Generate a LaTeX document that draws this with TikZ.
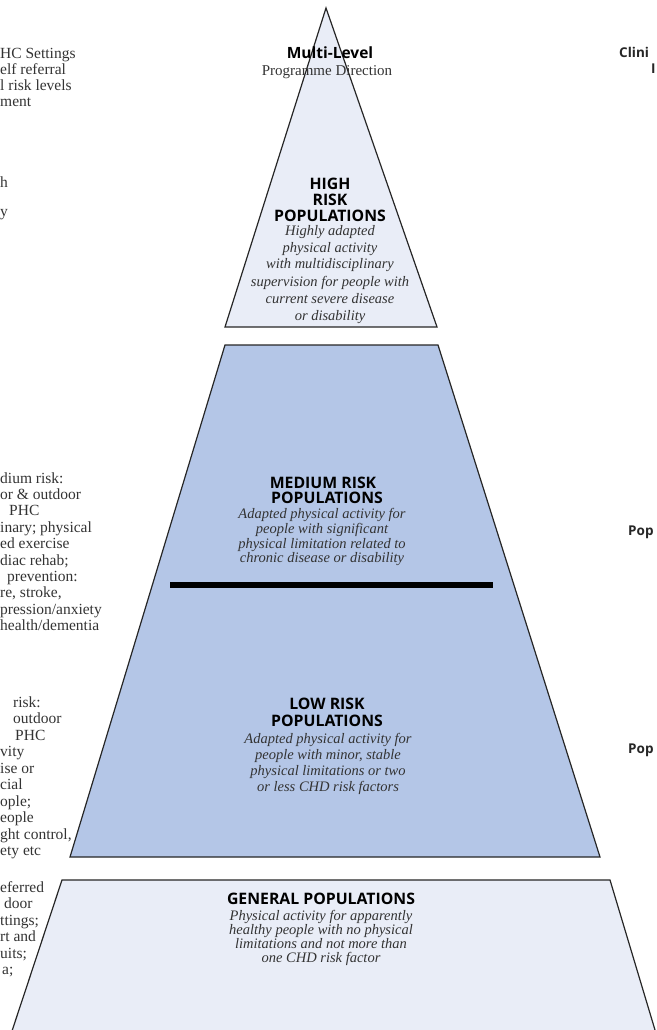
\documentclass[tikz,border=0pt]{standalone}
\usepackage{fontspec}
\setmainfont{Liberation Serif}
\setsansfont{Open Sans}
\definecolor{tierlight}{HTML}{E9EDF7}
\definecolor{tiermid}{HTML}{B4C6E7}
\definecolor{sidetext}{HTML}{333333}
\tikzset{
  lt/.style={anchor=base west, inner sep=0pt, text=sidetext, font=\fontsize{15.5}{16}\selectfont},
  hd/.style={anchor=base, inner sep=0pt, text=black, font=\sffamily\bfseries\fontsize{15.8}{16}\selectfont},
  it/.style={anchor=base, inner sep=0pt, text=sidetext, font=\itshape\fontsize{14.5}{16}\selectfont},
  tierline/.style={draw=black!85, line width=1.2pt, line join=miter},
  rt/.style={anchor=base west, inner sep=0pt, text=black!85, font=\sffamily\bfseries\fontsize{13.5}{15}\selectfont}
}
\begin{document}
\begin{tikzpicture}[x=1pt,y=-1pt]
\useasboundingbox (0,0) rectangle (656,1030);
\clip (0,0) rectangle (656,1030);
% shapes
\coordinate (apex) at (326,8);
\coordinate (tbr) at (437,327);
\coordinate (tbl) at (225,327);
\filldraw[tierline, fill=tierlight] (apex) -- (tbr) -- (tbl) -- cycle;
\coordinate (mtl) at (225,345);
\coordinate (mtr) at (438,345);
\coordinate (mbr) at (600,857);
\coordinate (mbl) at (70,857);
\filldraw[tierline, fill=tiermid] (mtl) -- (mtr) -- (mbr) -- (mbl) -- cycle;
\coordinate (barl) at (170,585);
\coordinate (barr) at (493,585);
\draw[line width=6pt, black] (barl) -- (barr);
\coordinate (gtl) at (62,880);
\coordinate (gtr) at (610,880);
\coordinate (gbr) at (658,1040);
\coordinate (gbl) at (9,1040);
\filldraw[tierline, fill=tierlight] (gtl) -- (gtr) -- (gbr) -- (gbl) -- cycle;

% top label
\node[hd, font=\sffamily\bfseries\fontsize{15.5}{16}\selectfont] (ml) at (330,59) {Multi-Level};
\node[it, font=\fontsize{15}{16}\selectfont] (pd) at (327,76) {Programme Direction};

% high risk
\node[hd] (h1) at (330,189) {HIGH};
\node[hd] (h2) at (330,205) {RISK};
\node[hd] (h3) at (330,221) {POPULATIONS};
\node[it] (h4) at (330,235) {Highly adapted};
\node[it] (h5) at (330,252) {physical activity};
\node[it] (h6) at (330,268) {with multidisciplinary};
\node[it] (h7) at (330,286) {supervision for people with};
\node[it] (h8) at (330,303) {current severe disease};
\node[it] (h9) at (330,320) {or disability};

% medium risk
\node[hd] (m1) at (323,488) {MEDIUM RISK};
\node[hd] (m2) at (327,503) {POPULATIONS};
\node[it] (m3) at (322,518) {Adapted physical activity for};
\node[it] (m4) at (322,533) {people with significant};
\node[it] (m5) at (322,548) {physical limitation related to};
\node[it] (m6) at (322,562) {chronic disease or disability};

% low risk
\node[hd] (w1) at (327,709) {LOW RISK};
\node[hd] (w2) at (327,726) {POPULATIONS};
\node[it] (w3) at (328,743) {Adapted physical activity for};
\node[it] (w4) at (328,759) {people with minor, stable};
\node[it] (w5) at (328,775) {physical limitations or two};
\node[it] (w6) at (328,791) {or less CHD risk factors};

% general
\node[hd] (g1) at (321,904) {GENERAL POPULATIONS};
\node[it] (g2) at (321,920) {Physical activity for apparently};
\node[it] (g3) at (321,934) {healthy people with no physical};
\node[it] (g4) at (321,948) {limitations and not more than};
\node[it] (g5) at (321,962) {one CHD risk factor};

% left side text (cut off)
\node[lt] (a1) at (0,59) {HC Settings};
\node[lt] (a2) at (0,75) {elf referral};
\node[lt] (a3) at (0,91) {l risk levels};
\node[lt] (a4) at (0,107) {ment};
\node[lt] (a5) at (0,187) {h};
\node[lt] (a6) at (0,216) {y};

\node[lt] (b1) at (0,483) {dium risk:};
\node[lt] (b2) at (0,499.4) {or \& outdoor};
\node[lt] (b3) at (9,515.8) {PHC};
\node[lt] (b4) at (0,532.2) {inary; physical};
\node[lt] (b5) at (0,548.6) {ed exercise};
\node[lt] (b6) at (0,565) {diac rehab;};
\node[lt] (b7) at (7,581.4) {prevention:};
\node[lt] (b8) at (0,597.8) {re, stroke,};
\node[lt] (b9) at (0,614.2) {pression/anxiety};
\node[lt] (b10) at (0,630.6) {health/dementia};

\node[lt] (c1) at (13,707) {risk:};
\node[lt] (c2) at (13,723.5) {outdoor};
\node[lt] (c3) at (15,740) {PHC};
\node[lt] (c4) at (0,756.5) {vity};
\node[lt] (c5) at (0,773) {ise or};
\node[lt] (c6) at (0,789.5) {cial};
\node[lt] (c7) at (0,806) {ople;};
\node[lt] (c8) at (0,822.5) {eople};
\node[lt] (c9) at (0,839) {ght control,};
\node[lt] (c10) at (0,855.5) {ety etc};

\node[lt] (d1) at (0,892) {eferred};
\node[lt] (d2) at (4,908.5) {door};
\node[lt] (d3) at (0,925) {ttings;};
\node[lt] (d4) at (0,941.5) {rt and};
\node[lt] (d5) at (0,958) {uits;};
\node[lt] (d6) at (2,974.5) {a;};

% right side text (cut off)
\node[rt] (r1) at (619,58) {Clini};
\node[rt] (r2) at (651,74) {I};
\node[rt] (r3) at (628,535) {Pop};
\node[rt] (r4) at (628,753) {Pop};
\end{tikzpicture}
\end{document}
